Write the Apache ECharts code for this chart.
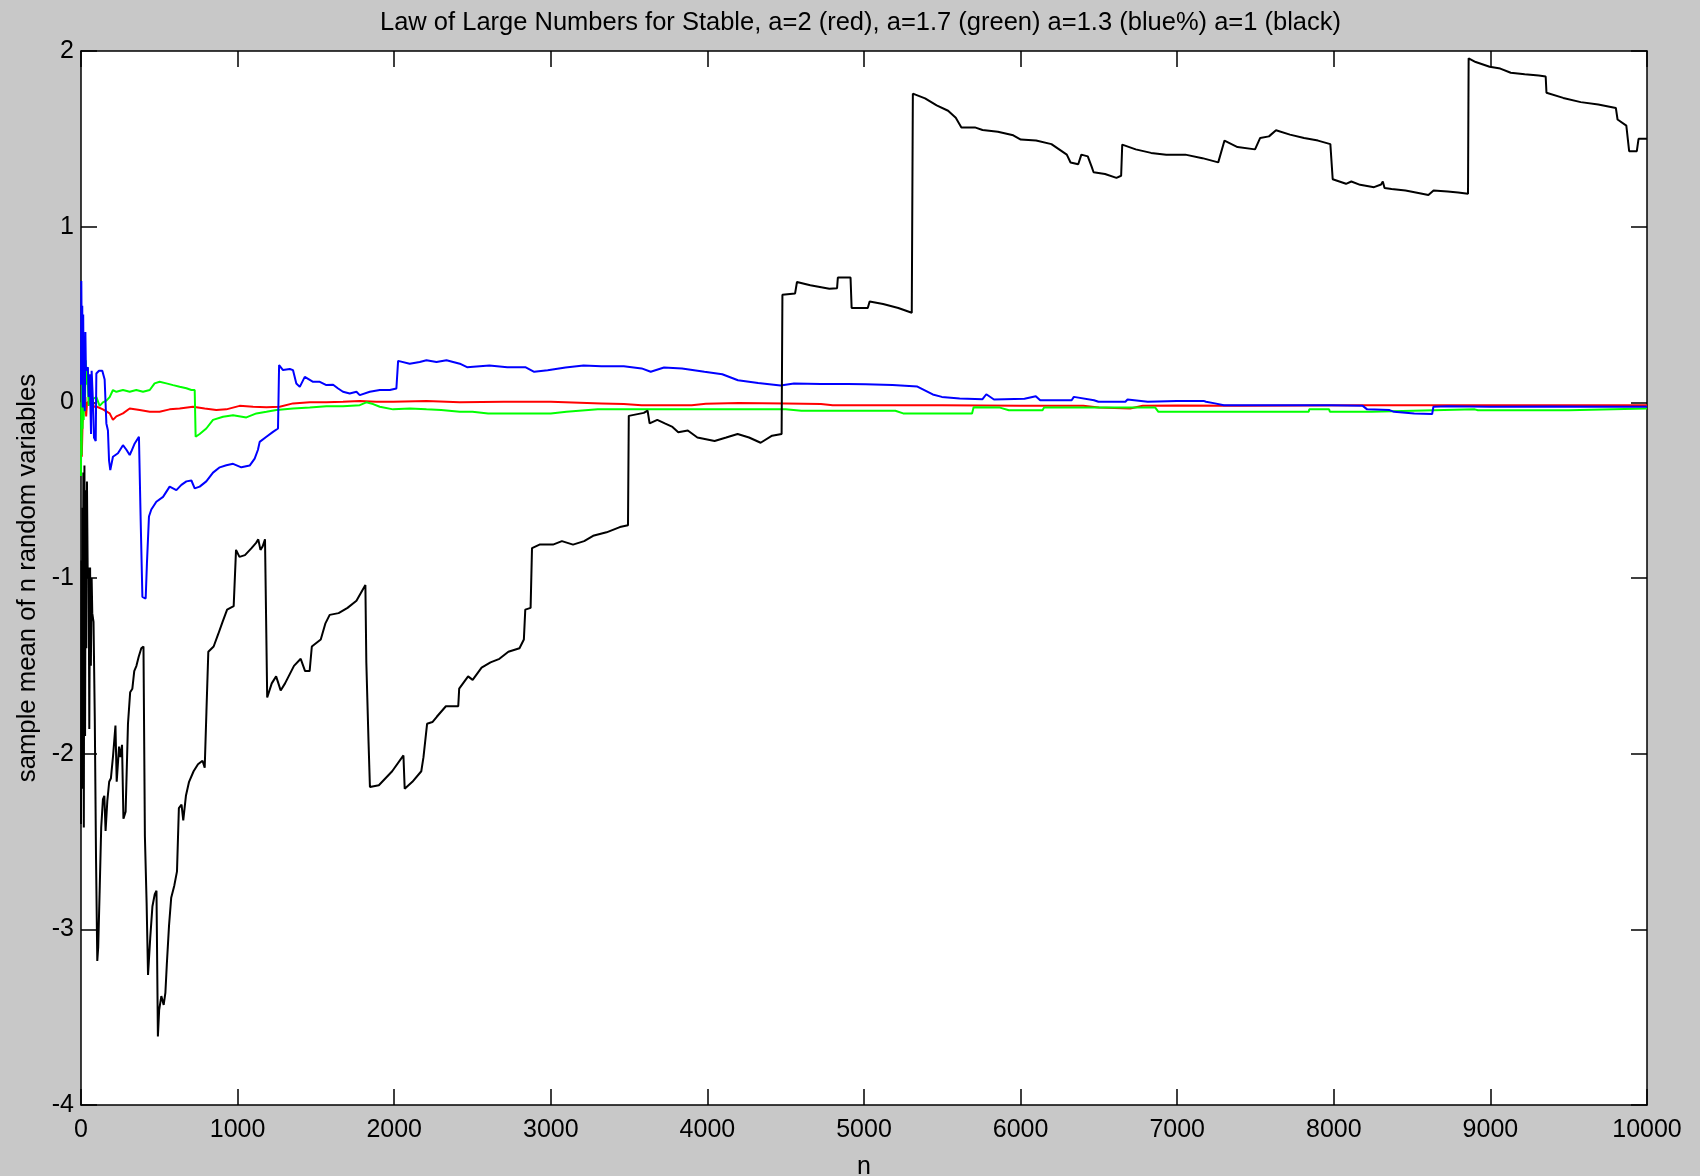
<!DOCTYPE html>
<html>
<head>
<meta charset="utf-8">
<script src="https://cdn.jsdelivr.net/npm/echarts@6/dist/echarts.min.js"></script>
<style>
html,body{margin:0;padding:0;background:#c8c8c8;}
#chart{width:1700px;height:1176px;}
</style>
</head>
<body>
<div id="chart"></div>
<script>
const titleText = "Law of Large Numbers for Stable, a=2 (red), a=1.7 (green) a=1.3 (blue%) a=1 (black)";
const xName = "n";
const yName = "sample mean of n random variables";
const xTicks = [0,1000,2000,3000,4000,5000,6000,7000,8000,9000,10000];
const yTicks = [-4,-3,-2,-1,0,1,2];

// a=2 (red)
const seriesRed = [[0,-0.3],[2,-0.22],[5,-0.31],[10,-0.12],[17,-0.025],[28,0.03],[33,-0.08],[38,-0.006],[55,0.012],[70,0.03],[81,-0.025],[102,-0.025],[140,-0.04],[183,-0.063],[204,-0.1],[226,-0.08],[268,-0.063],[311,-0.035],[375,-0.044],[439,-0.054],[502,-0.054],[566,-0.04],[630,-0.035],[715,-0.025],[790,-0.035],[864,-0.044],[928,-0.04],[1013,-0.02],[1099,-0.025],[1184,-0.028],[1269,-0.025],[1354,-0.006],[1461,0.0],[1567,0.0],[1673,0.003],[1780,0.008],[1886,0.003],[1993,0.003],[2206,0.008],[2419,0.0],[2700,0.003],[3000,0.003],[3323,-0.006],[3466,-0.01],[3580,-0.016],[3900,-0.016],[3990,-0.008],[4200,-0.004],[4500,-0.006],[4725,-0.01],[4800,-0.016],[5500,-0.016],[6000,-0.02],[6400,-0.02],[6500,-0.03],[6700,-0.035],[6780,-0.02],[7000,-0.018],[7400,-0.02],[8200,-0.016],[10000,-0.016]];

// a=1.7 (green)
const seriesGreen = [[0,-0.42],[2,0.0],[4,-0.3],[7,0.24],[10,-0.15],[13,0.2],[17,-0.1],[21,0.15],[25,-0.05],[30,0.24],[34,0.1],[40,0.2],[49,-0.02],[60,0.04],[70,0.0],[77,0.02],[98,0.03],[119,-0.02],[140,0.0],[162,0.01],[183,0.03],[204,0.07],[226,0.06],[268,0.07],[311,0.06],[353,0.07],[396,0.06],[439,0.07],[470,0.108],[502,0.117],[545,0.108],[588,0.098],[630,0.089],[673,0.08],[705,0.07],[726,0.07],[732,-0.196],[758,-0.18],[800,-0.149],[843,-0.1],[907,-0.082],[971,-0.073],[1056,-0.086],[1120,-0.063],[1184,-0.054],[1248,-0.044],[1354,-0.035],[1461,-0.03],[1567,-0.022],[1673,-0.022],[1780,-0.016],[1822,0.0],[1865,-0.01],[1908,-0.025],[1993,-0.04],[2100,-0.035],[2206,-0.04],[2300,-0.044],[2419,-0.054],[2500,-0.054],[2600,-0.063],[3000,-0.063],[3100,-0.054],[3300,-0.04],[3500,-0.04],[4500,-0.04],[4600,-0.048],[5200,-0.048],[5250,-0.063],[5690,-0.063],[5700,-0.028],[5868,-0.03],[5925,-0.045],[6140,-0.045],[6150,-0.03],[6860,-0.03],[6880,-0.054],[7440,-0.054],[7840,-0.054],[7843,-0.04],[7970,-0.04],[7975,-0.054],[8240,-0.054],[8245,-0.045],[8640,-0.045],[8650,-0.04],[8900,-0.04],[8920,-0.045],[9500,-0.045],[9510,-0.035],[10000,-0.035]];

// a=1.3 (blue)
const seriesBlue = [[0,0.1],[2,0.69],[5,0.3],[8,0.55],[11,-0.03],[14,0.5],[17,0.1],[20,0.35],[24,-0.05],[28,0.4],[31,0.2],[34,0.18],[44,0.2],[49,0.03],[56,0.16],[64,-0.18],[68,0.18],[77,-0.01],[83,-0.2],[94,-0.22],[98,0.164],[115,0.18],[136,0.18],[151,0.13],[162,-0.12],[172,-0.16],[179,-0.33],[187,-0.386],[204,-0.31],[236,-0.29],[268,-0.244],[290,-0.27],[311,-0.30],[321,-0.28],[343,-0.234],[370,-0.196],[375,-0.19],[381,-0.67],[392,-1.107],[413,-1.117],[421,-0.918],[434,-0.65],[449,-0.61],[481,-0.566],[524,-0.538],[566,-0.48],[609,-0.50],[641,-0.47],[673,-0.45],[705,-0.445],[726,-0.49],[758,-0.48],[800,-0.45],[843,-0.40],[886,-0.37],[928,-0.358],[971,-0.35],[1024,-0.37],[1077,-0.36],[1109,-0.32],[1130,-0.27],[1141,-0.225],[1184,-0.196],[1226,-0.168],[1258,-0.149],[1265,0.212],[1290,0.184],[1333,0.19],[1354,0.183],[1375,0.107],[1397,0.088],[1429,0.145],[1482,0.117],[1525,0.117],[1567,0.098],[1610,0.10],[1642,0.079],[1673,0.06],[1716,0.05],[1759,0.06],[1780,0.041],[1844,0.06],[1908,0.07],[1972,0.07],[2014,0.079],[2025,0.236],[2099,0.22],[2163,0.23],[2206,0.24],[2270,0.23],[2334,0.24],[2419,0.22],[2465,0.20],[2608,0.21],[2722,0.20],[2837,0.20],[2894,0.174],[2980,0.183],[3094,0.198],[3209,0.21],[3323,0.205],[3466,0.205],[3580,0.193],[3638,0.174],[3723,0.198],[3838,0.193],[3981,0.174],[4095,0.160],[4195,0.126],[4324,0.110],[4467,0.096],[4553,0.107],[4725,0.105],[4896,0.105],[5010,0.103],[5182,0.098],[5341,0.09],[5439,0.045],[5497,0.031],[5611,0.022],[5757,0.018],[5781,0.046],[5830,0.016],[6025,0.02],[6097,0.035],[6125,0.012],[6326,0.012],[6340,0.031],[6469,0.012],[6497,0.003],[6669,0.003],[6683,0.016],[6812,0.003],[6998,0.008],[7169,0.008],[7184,0.003],[7241,-0.006],[7298,-0.016],[7584,-0.016],[7984,-0.016],[8185,-0.02],[8213,-0.04],[8356,-0.044],[8385,-0.054],[8514,-0.063],[8628,-0.067],[8636,-0.025],[8728,-0.022],[8999,-0.025],[9386,-0.024],[10000,-0.025]];

// a=1 (black)
const seriesBlack = [[0,-2.4],[3,-0.9],[6,-2.2],[9,-0.6],[12,-1.6],[15,-0.4],[18,-2.42],[22,-0.36],[26,-1.9],[30,-0.5],[34,-1.4],[38,-0.45],[43,-1.0],[49,-0.94],[53,-1.86],[58,-0.94],[63,-1.5],[68,-1.0],[72,-1.2],[80,-1.25],[88,-1.8],[96,-2.6],[104,-3.18],[110,-3.1],[120,-2.75],[129,-2.42],[140,-2.26],[149,-2.24],[157,-2.44],[168,-2.27],[180,-2.16],[191,-2.14],[205,-2.01],[220,-1.84],[228,-2.16],[243,-1.96],[252,-2.02],[262,-1.95],[271,-2.37],[285,-2.33],[300,-1.83],[314,-1.65],[328,-1.63],[340,-1.53],[354,-1.50],[368,-1.45],[385,-1.40],[399,-1.39],[408,-2.47],[419,-2.85],[428,-3.26],[442,-3.05],[456,-2.87],[471,-2.80],[482,-2.78],[491,-3.61],[499,-3.46],[513,-3.38],[528,-3.43],[539,-3.36],[548,-3.2],[562,-2.98],[576,-2.82],[596,-2.75],[613,-2.67],[625,-2.31],[642,-2.29],[653,-2.38],[670,-2.24],[690,-2.16],[719,-2.10],[747,-2.06],[776,-2.04],[790,-2.08],[801,-1.76],[813,-1.42],[847,-1.39],[876,-1.32],[904,-1.25],[933,-1.18],[975,-1.16],[990,-0.84],[1012,-0.88],[1047,-0.87],[1089,-0.83],[1118,-0.80],[1132,-0.78],[1146,-0.84],[1160,-0.82],[1175,-0.78],[1183,-0.79],[1189,-1.68],[1218,-1.60],[1246,-1.56],[1275,-1.64],[1303,-1.60],[1360,-1.50],[1403,-1.46],[1431,-1.53],[1460,-1.53],[1474,-1.39],[1531,-1.35],[1560,-1.26],[1588,-1.21],[1645,-1.20],[1702,-1.17],[1759,-1.13],[1816,-1.04],[1822,-1.48],[1836,-1.93],[1845,-2.19],[1902,-2.18],[1987,-2.10],[2059,-2.01],[2067,-2.20],[2116,-2.16],[2173,-2.10],[2187,-2.02],[2210,-1.83],[2244,-1.82],[2272,-1.79],[2330,-1.73],[2409,-1.73],[2415,-1.63],[2472,-1.56],[2501,-1.58],[2558,-1.51],[2615,-1.48],[2672,-1.46],[2729,-1.42],[2800,-1.40],[2828,-1.35],[2837,-1.18],[2871,-1.17],[2880,-0.83],[2928,-0.81],[3014,-0.81],[3071,-0.79],[3142,-0.81],[3213,-0.79],[3270,-0.76],[3356,-0.74],[3441,-0.71],[3493,-0.70],[3498,-0.077],[3594,-0.06],[3618,-0.047],[3631,-0.12],[3680,-0.10],[3728,-0.12],[3777,-0.14],[3814,-0.17],[3875,-0.16],[3936,-0.20],[4046,-0.22],[4120,-0.20],[4193,-0.18],[4266,-0.20],[4340,-0.23],[4413,-0.19],[4474,-0.18],[4479,0.613],[4560,0.62],[4572,0.685],[4657,0.667],[4779,0.646],[4828,0.65],[4833,0.71],[4914,0.71],[4921,0.537],[5024,0.537],[5036,0.574],[5122,0.56],[5219,0.537],[5305,0.51],[5312,1.757],[5390,1.73],[5464,1.69],[5537,1.66],[5586,1.62],[5622,1.565],[5708,1.565],[5757,1.55],[5855,1.54],[5953,1.52],[6001,1.496],[6099,1.49],[6197,1.47],[6246,1.44],[6295,1.41],[6319,1.365],[6368,1.355],[6388,1.41],[6429,1.40],[6453,1.343],[6466,1.31],[6539,1.30],[6612,1.278],[6642,1.29],[6649,1.467],[6735,1.44],[6833,1.42],[6930,1.41],[7052,1.41],[7161,1.39],[7262,1.366],[7302,1.49],[7385,1.453],[7497,1.44],[7530,1.505],[7586,1.514],[7631,1.549],[7720,1.524],[7810,1.505],[7899,1.49],[7978,1.47],[7993,1.27],[8078,1.244],[8112,1.257],[8168,1.238],[8257,1.225],[8302,1.24],[8313,1.257],[8324,1.22],[8369,1.215],[8458,1.206],[8548,1.19],[8604,1.18],[8637,1.206],[8727,1.20],[8794,1.195],[8857,1.187],[8861,1.958],[8906,1.937],[8995,1.91],[9063,1.90],[9130,1.876],[9219,1.867],[9309,1.86],[9353,1.855],[9358,1.762],[9465,1.733],[9577,1.709],[9689,1.695],[9801,1.676],[9812,1.61],[9868,1.575],[9886,1.43],[9935,1.43],[9946,1.50],[10000,1.50]];

const font = 'Liberation Sans, Arial, sans-serif';
const chart = echarts.init(document.getElementById('chart'), null, {renderer:'canvas'});

function mkLine(data, color){
  return {type:'line', data:data, showSymbol:false, symbol:'none', animation:false,
    lineStyle:{color:color, width:2}, itemStyle:{color:color}, silent:true};
}

const tickStyle = {show:true, inside:true, length:16, lineStyle:{color:'#000', width:1.5}};
const lineStyleAxis = {show:true, onZero:false, lineStyle:{color:'#000', width:1.5}};

chart.setOption({
  backgroundColor:'#c8c8c8',
  animation:false,
  title:{text:titleText, left:375, top:5,
    textStyle:{fontFamily:font, fontSize:25.5, fontWeight:'normal', color:'#000'}},
  grid:{left:81, right:53, top:51, bottom:71, containLabel:false, outerBoundsMode:'none',
    show:true, backgroundColor:'#ffffff', borderColor:'#000', borderWidth:0},
  xAxis:[
    {type:'value', position:'bottom', min:0, max:10000, interval:1000,
     name:xName, nameLocation:'middle', nameGap:50,
     nameTextStyle:{fontFamily:font, fontSize:25, color:'#000'},
     axisLine:lineStyleAxis, axisTick:tickStyle, splitLine:{show:false},
     axisLabel:{show:true, margin:13, fontFamily:font, fontSize:25, color:'#000',
       formatter:function(v){return xTicks.indexOf(v)>=0 ? String(v) : '';}}},
    {type:'value', position:'top', min:0, max:10000, interval:1000,
     axisLine:lineStyleAxis, axisTick:tickStyle, splitLine:{show:false}, axisLabel:{show:false}}
  ],
  yAxis:[
    {type:'value', position:'left', min:-4, max:2, interval:1,
     name:yName, nameLocation:'middle', nameGap:39, nameRotate:90,
     nameTextStyle:{fontFamily:font, fontSize:25.7, color:'#000'},
     axisLine:lineStyleAxis, axisTick:tickStyle, splitLine:{show:false},
     axisLabel:{show:true, margin:7, fontFamily:font, fontSize:25, color:'#000',
       formatter:function(v){return yTicks.indexOf(v)>=0 ? String(v) : '';}}},
    {type:'value', position:'right', min:-4, max:2, interval:1,
     axisLine:lineStyleAxis, axisTick:tickStyle, splitLine:{show:false}, axisLabel:{show:false}}
  ],
  series:[
    mkLine(seriesRed,'#ff0000'),
    mkLine(seriesGreen,'#00ff00'),
    mkLine(seriesBlue,'#0000ff'),
    mkLine(seriesBlack,'#000000')
  ]
});
</script>
</body>
</html>
